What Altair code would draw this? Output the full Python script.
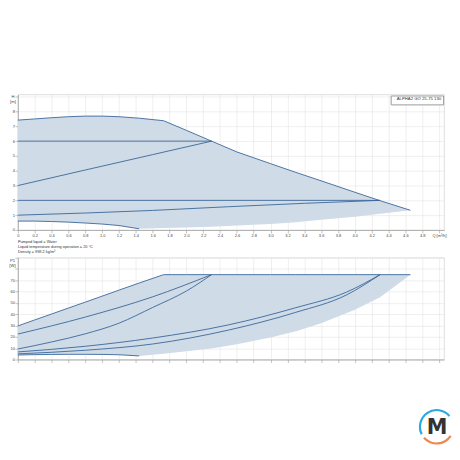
import altair as alt
import pandas as pd

FONT = "Liberation Sans"
FILL = "#cfdbe6"
LINE = "#3a6699"

MODEL = "ALPHA2 GO 25-75 130"
NOTES = ["Pumped liquid = Water",
         "Liquid temperature during operation = 20 °C",
         "Density = 998.2 kg/m³"]

X_TICKS = [0.0, 0.2, 0.4, 0.6, 0.8, 1.0, 1.2, 1.4, 1.6, 1.8, 2.0, 2.2, 2.4,
           2.6, 2.8, 3.0, 3.2, 3.4, 3.6, 3.8, 4.0, 4.2, 4.4, 4.6, 4.8, 5.0]
H_TICKS = [0, 1, 2, 3, 4, 5, 6, 7, 8, 9]
P_TICKS = [0, 10, 20, 30, 40, 50, 60, 70, 80, 90]

# operating envelope (shaded region) read at the same flow points
Q_EDGE = [0, 0.2, 0.4, 0.6, 0.8, 1.0, 1.2, 1.44, 1.73, 2.0, 2.3, 2.6, 3.0,
          3.3, 3.6, 4.0, 4.3, 4.66]
H_UPPER = [7.42, 7.5, 7.58, 7.65, 7.69, 7.69, 7.65, 7.55, 7.38, 6.73, 6.0,
           5.27, 4.48, 3.89, 3.32, 2.55, 1.98, 1.33]
H_LOWER = [0.6, 0.6, 0.57, 0.53, 0.47, 0.4, 0.3, 0.08, 0.13, 0.17, 0.22,
           0.3, 0.41, 0.53, 0.69, 0.9, 1.09, 1.33]
P_UPPER = [29.7, 35.0, 40.2, 45.5, 50.7, 56.0, 61.3, 67.6, 75, 75, 75, 75,
           75, 75, 75, 75, 75, 75]
P_LOWER = [4.0, 4.3, 4.5, 4.6, 4.6, 4.5, 4.2, 3.2, 5.2, 7.2, 9.8, 13.5,
           19.5, 25.0, 32.0, 44.0, 55.0, 75]
Q_MIN_END = 1.44

# control curves, head
H_CONST_HI_Q = [0, 2.3]
H_CONST_HI = [6.0, 6.0]
H_PROP_HI_Q = [0, 0.8, 1.6, 2.3]
H_PROP_HI = [3.0, 4.05, 5.09, 6.0]
H_CONST_LO_Q = [0, 4.3]
H_CONST_LO = [2.0, 2.0]
H_PROP_LO_Q = [0, 1.6, 2.5, 3.4, 4.3]
H_PROP_LO = [1.0, 1.32, 1.57, 1.8, 2.0]

# control curves, power
P_CONST_HI_Q = [0, 0.8, 1.6, 2.3]
P_CONST_HI = [22.5, 37.5, 55.4, 75]
P_PROP_HI_Q = [0, 0.4, 0.8, 1.2, 1.6, 2.0, 2.3]
P_PROP_HI = [9.3, 15.5, 22.7, 32.1, 46.0, 60.5, 75]
P_CONST_LO_Q = [0, 0.8, 1.6, 2.5, 3.3, 3.9, 4.3]
P_CONST_LO = [6.7, 11.7, 19.0, 30.6, 45.8, 59.5, 75]
P_PROP_LO_Q = [0, 0.8, 1.6, 2.5, 3.3, 3.9, 4.3]
P_PROP_LO = [5.0, 8.2, 13.7, 26.0, 41.7, 57.0, 75]

area_df = pd.DataFrame({"Q": Q_EDGE, "H": H_UPPER, "H2": H_LOWER,
                        "P": P_UPPER, "P2": P_LOWER, "model": MODEL})


def long(items, col):
    return pd.concat([pd.DataFrame({"Q": q, col: v, "series": n}) for n, q, v in items],
                     ignore_index=True)


top_lines = long([("c6", H_CONST_HI_Q, H_CONST_HI), ("p6", H_PROP_HI_Q, H_PROP_HI),
                  ("c2", H_CONST_LO_Q, H_CONST_LO), ("p2", H_PROP_LO_Q, H_PROP_LO)], "H")
bot_lines = long([("c6", P_CONST_HI_Q, P_CONST_HI), ("p6", P_PROP_HI_Q, P_PROP_HI),
                  ("c2", P_CONST_LO_Q, P_CONST_LO), ("p2", P_PROP_LO_Q, P_PROP_LO)], "P")

W = 431
HT = 137
HB = 103

xscale = alt.Scale(domain=[0, 5.06], nice=False, zero=False)
x_top_axis = alt.Axis(values=X_TICKS, labelOverlap=False, labelFlush=False, labelBound=False,
                      labelExpr="datum.value == 0 ? '0' : (datum.value > 4.9 ? 'Q [m³/h]' : format(datum.value, '.1f'))")
x_bot_axis = alt.Axis(values=X_TICKS, labels=False)

yscale_top = alt.Scale(domain=[0, 9.15], nice=False)
y_top_axis = alt.Axis(values=H_TICKS, labelOverlap=False, labelFlush=False,
                      labelExpr="datum.value > 8 ? '' : datum.label",
                      title=["H", "[m]"], titleAngle=0, titleAlign="center",
                      titleBaseline="top", titleX=-5.5, titleY=0, titleLineHeight=5.5)
yscale_bot = alt.Scale(domain=[0, 90], nice=False)
y_bot_axis = alt.Axis(values=P_TICKS, labelOverlap=False, labelFlush=False,
                      labelExpr="datum.value > 70 ? '' : datum.label",
                      title=["P1", "[W]"], titleAngle=0, titleAlign="center",
                      titleBaseline="top", titleX=-6, titleY=1, titleLineHeight=5)

XT = alt.X("Q:Q", scale=xscale, axis=x_top_axis, title=None)
XB = alt.X("Q:Q", scale=xscale, axis=x_bot_axis, title=None)

base_top = alt.Chart(area_df)
top_area = base_top.mark_area(opacity=1, interpolate="linear").encode(
    x=XT,
    y=alt.Y("H:Q", scale=yscale_top, axis=y_top_axis),
    y2="H2:Q",
    color=alt.Color("model:N", scale=alt.Scale(domain=[MODEL], range=[FILL]),
                    legend=alt.Legend(orient="top-right", offset=1, title=None,
                                      labelFont=FONT, labelFontSize=4.3, labelColor="#333",
                                      symbolSize=0, symbolOpacity=0, symbolStrokeWidth=0,
                                      labelOffset=0, padding=1.8, strokeColor="#9a9a9a",
                                      fillColor="white", cornerRadius=0)),
)
top_env = base_top.mark_line(color=LINE, strokeWidth=0.9).encode(
    x=XT, y=alt.Y("H:Q", scale=yscale_top, axis=y_top_axis))
top_min = base_top.transform_filter(alt.datum.Q <= Q_MIN_END).mark_line(
    color=LINE, strokeWidth=0.9).encode(
    x=XT, y=alt.Y("H2:Q", scale=yscale_top, axis=y_top_axis))
top_curves = alt.Chart(top_lines).mark_line(color=LINE, strokeWidth=0.9, interpolate="monotone").encode(
    x=XT, y=alt.Y("H:Q", scale=yscale_top, axis=y_top_axis), detail="series:N")

top = alt.layer(top_area, top_env, top_min, top_curves).properties(width=W, height=HT)

base_bot = alt.Chart(area_df)
bot_area = base_bot.mark_area(opacity=1, color=FILL, interpolate="linear").encode(
    x=XB, y=alt.Y("P:Q", scale=yscale_bot, axis=y_bot_axis), y2="P2:Q")
bot_env = base_bot.mark_line(color=LINE, strokeWidth=0.9).encode(
    x=XB, y=alt.Y("P:Q", scale=yscale_bot, axis=y_bot_axis))
bot_min = base_bot.transform_filter(alt.datum.Q <= Q_MIN_END).mark_line(
    color=LINE, strokeWidth=0.9).encode(
    x=XB, y=alt.Y("P2:Q", scale=yscale_bot, axis=y_bot_axis))
bot_curves = alt.Chart(bot_lines).mark_line(color=LINE, strokeWidth=0.9, interpolate="monotone").encode(
    x=XB, y=alt.Y("P:Q", scale=yscale_bot, axis=y_bot_axis), detail="series:N")

one = pd.DataFrame({"k": [0]})
notes = alt.Chart(one).mark_text(text=NOTES, align="left", baseline="top", font=FONT,
                                 fontSize=3.9, lineHeight=5.5, color="#333").encode(
    x=alt.value(0), y=alt.value(-18.3))

LX, LY = 423.5, 171
logo_blue = alt.Chart(one).mark_arc(theta=4.25, theta2=7.15, radius=18, radius2=15.8,
                                    color="#2aa8e0").encode(x=alt.value(LX), y=alt.value(LY))
logo_orange = alt.Chart(one).mark_arc(theta=2.15, theta2=4.0, radius=18, radius2=15.8,
                                      color="#f0874a").encode(x=alt.value(LX), y=alt.value(LY))
logo_m = alt.Chart(one).mark_text(text="M", font="DejaVu Sans", fontWeight="bold", fontSize=21,
                                  align="center", baseline="middle", color="#333333").encode(
    x=alt.value(LX + 0.5), y=alt.value(LY + 1))

bottom = alt.layer(bot_area, bot_env, bot_min, bot_curves, notes,
                   logo_blue, logo_orange, logo_m).properties(width=W, height=HB)

chart = alt.vconcat(top, bottom, spacing=28, bounds="flush").properties(
    padding={"left": 0, "top": 84, "right": 0, "bottom": 0},
    background="white",
).configure_axis(
    labelFont=FONT, titleFont=FONT, labelFontSize=4, titleFontSize=4.2,
    labelColor="#444", titleColor="#444", titleFontWeight="normal",
    tickSize=3, tickWidth=0.6, tickColor="#999", domainColor="#999", domainWidth=0.7,
    gridColor="#e4e4e4", gridWidth=0.6, labelPadding=0.5,
).configure_view(stroke="#cfcfcf", strokeWidth=0.7)

chart.save("out.html", embed_options={"renderer": "svg", "actions": False})
